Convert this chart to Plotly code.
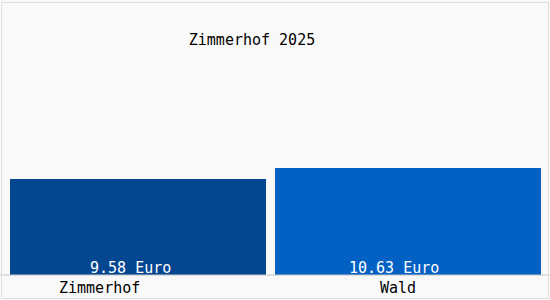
import plotly.graph_objects as go

# Data
categories = ["Zimmerhof", "Wald"]
values = [9.58, 10.63]
value_labels = ["9.58 Euro", "10.63 Euro"]
title_text = "Zimmerhof 2025"

# Styles
bar_colors = ["#04468f", "#0461c4"]
bar_widths = [0.964, 1.002]
bar_offsets = [-0.5, -0.502]
value_xshift = [-12.75, -14.25]
cat_xshift = [-43.75, -10.25]
FONT = "DejaVu Sans Mono"
BG = "#f9f9f9"

fig = go.Figure()
fig.add_trace(go.Bar(
    x=categories, y=values,
    marker=dict(color=bar_colors, line=dict(width=0)),
    width=bar_widths, offset=bar_offsets,
    hoverinfo="skip",
))

annotations = []
for i, cat in enumerate(categories):
    annotations.append(dict(
        x=cat, y=0, xref="x", yref="y", text=value_labels[i],
        showarrow=False, xanchor="center", yanchor="middle",
        xshift=value_xshift[i], yshift=7,
        font=dict(family=FONT, size=15, color="white"),
    ))
    annotations.append(dict(
        x=cat, y=0, xref="x", yref="y", text=cat,
        showarrow=False, xanchor="center", yanchor="middle",
        xshift=cat_xshift[i], yshift=-13,
        font=dict(family=FONT, size=15, color="black"),
    ))

W, H = 550, 300
ml, mr, mt, mb = 10, 9, 0, 25
pw = W - ml - mr
ph = H - mt - mb

def px(xpix):
    return (xpix - ml) / pw

def py(ypix):
    return (H - mb - ypix) / ph

shapes = [
    dict(type="line", xref="paper", yref="paper",
         x0=px(0), x1=px(550), y0=py(275), y1=py(275),
         line=dict(color="#c4c4c4", width=1)),
    dict(type="rect", xref="paper", yref="paper",
         x0=px(1.5), x1=px(548.5), y0=py(2.5), y1=py(298.5),
         line=dict(color="#dedede", width=1)),
]

fig.update_layout(
    width=W, height=H,
    margin=dict(l=ml, r=mr, t=mt, b=mb, pad=0),
    paper_bgcolor=BG, plot_bgcolor=BG,
    showlegend=False,
    bargap=0,
    title=dict(text=title_text, x=252 / W, y=1 - 40 / H,
               xref="container", yref="container",
               xanchor="center", yanchor="middle",
               font=dict(family=FONT, size=15, color="black")),
    xaxis=dict(type="category", range=[-0.5, 1.5], showticklabels=False,
               showgrid=False, zeroline=False, showline=False, ticks=""),
    yaxis=dict(range=[0, 275 / 10.066], showticklabels=False,
               showgrid=False, zeroline=False, showline=False, ticks=""),
    annotations=annotations,
    shapes=shapes,
)

fig.write_html("out.html")
